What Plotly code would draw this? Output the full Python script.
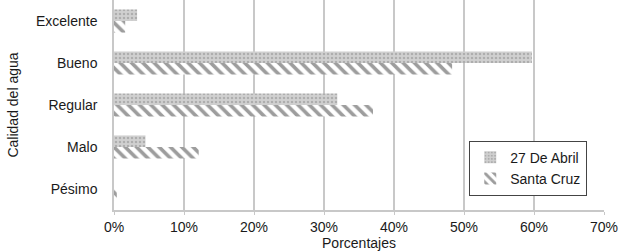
import plotly.graph_objects as go

categories = ["Excelente", "Bueno", "Regular", "Malo", "Pésimo"]
abril = [3.3, 59.7, 31.9, 4.5, 0.0]
santa_cruz = [1.6, 48.3, 37.0, 12.1, 0.4]
tick_vals = [0, 10, 20, 30, 40, 50, 60, 70]
tick_text = ["0%", "10%", "20%", "30%", "40%", "50%", "60%", "70%"]

fig = go.Figure()
fig.add_trace(go.Bar(
    y=categories, x=abril, orientation="h", name="27 De Abril",
    marker=dict(color="#c4c4c4", line=dict(width=0),
                pattern=dict(shape=".", fgcolor="#8c8c8c", bgcolor="#d0d0d0", size=4, solidity=0.3)),
))
fig.add_trace(go.Bar(
    y=categories, x=santa_cruz, orientation="h", name="Santa Cruz",
    marker=dict(color="white", line=dict(width=0),
                pattern=dict(shape="\\", fgcolor="#3c3c3c", bgcolor="white", size=8, solidity=0.45)),
))

fig.update_layout(
    width=623, height=252,
    margin=dict(l=114, r=19, t=0, b=42),
    paper_bgcolor="white", plot_bgcolor="white",
    barmode="group", bargap=0.45, bargroupgap=0.0,
    font=dict(family="Liberation Sans, Arial, sans-serif", size=14, color="#1a1a1a"),
    showlegend=True,
    legend=dict(x=0.725, y=0.33, xanchor="left", yanchor="top",
                bordercolor="#444444", borderwidth=1, bgcolor="white",
                font=dict(size=14), tracegroupgap=0, itemwidth=30,
                itemsizing="constant"),
)
fig.update_xaxes(
    range=[0, 70], tickvals=tick_vals, ticktext=tick_text,
    automargin=False,
    showgrid=True, gridcolor="#c8c8c8", gridwidth=1.5,
    showline=True, linecolor="#c8c8c8", linewidth=1.5,
    ticks="outside", ticklen=3, tickcolor="#c8c8c8",
    zeroline=False,
    title=dict(text="Porcentajes", standoff=4, font=dict(size=14)),
)
fig.update_yaxes(
    categoryorder="array", categoryarray=categories, autorange="reversed",
    automargin=False,
    showline=True, linecolor="#c8c8c8", linewidth=1.5,
    ticks="", ticklabelstandoff=12,
    title=dict(text="Calidad del agua", standoff=14, font=dict(size=14)),
)
fig.write_html("out.html", config={"displayModeBar": False},
               post_script="document.body.style.margin='0';document.body.style.overflow='hidden';")
